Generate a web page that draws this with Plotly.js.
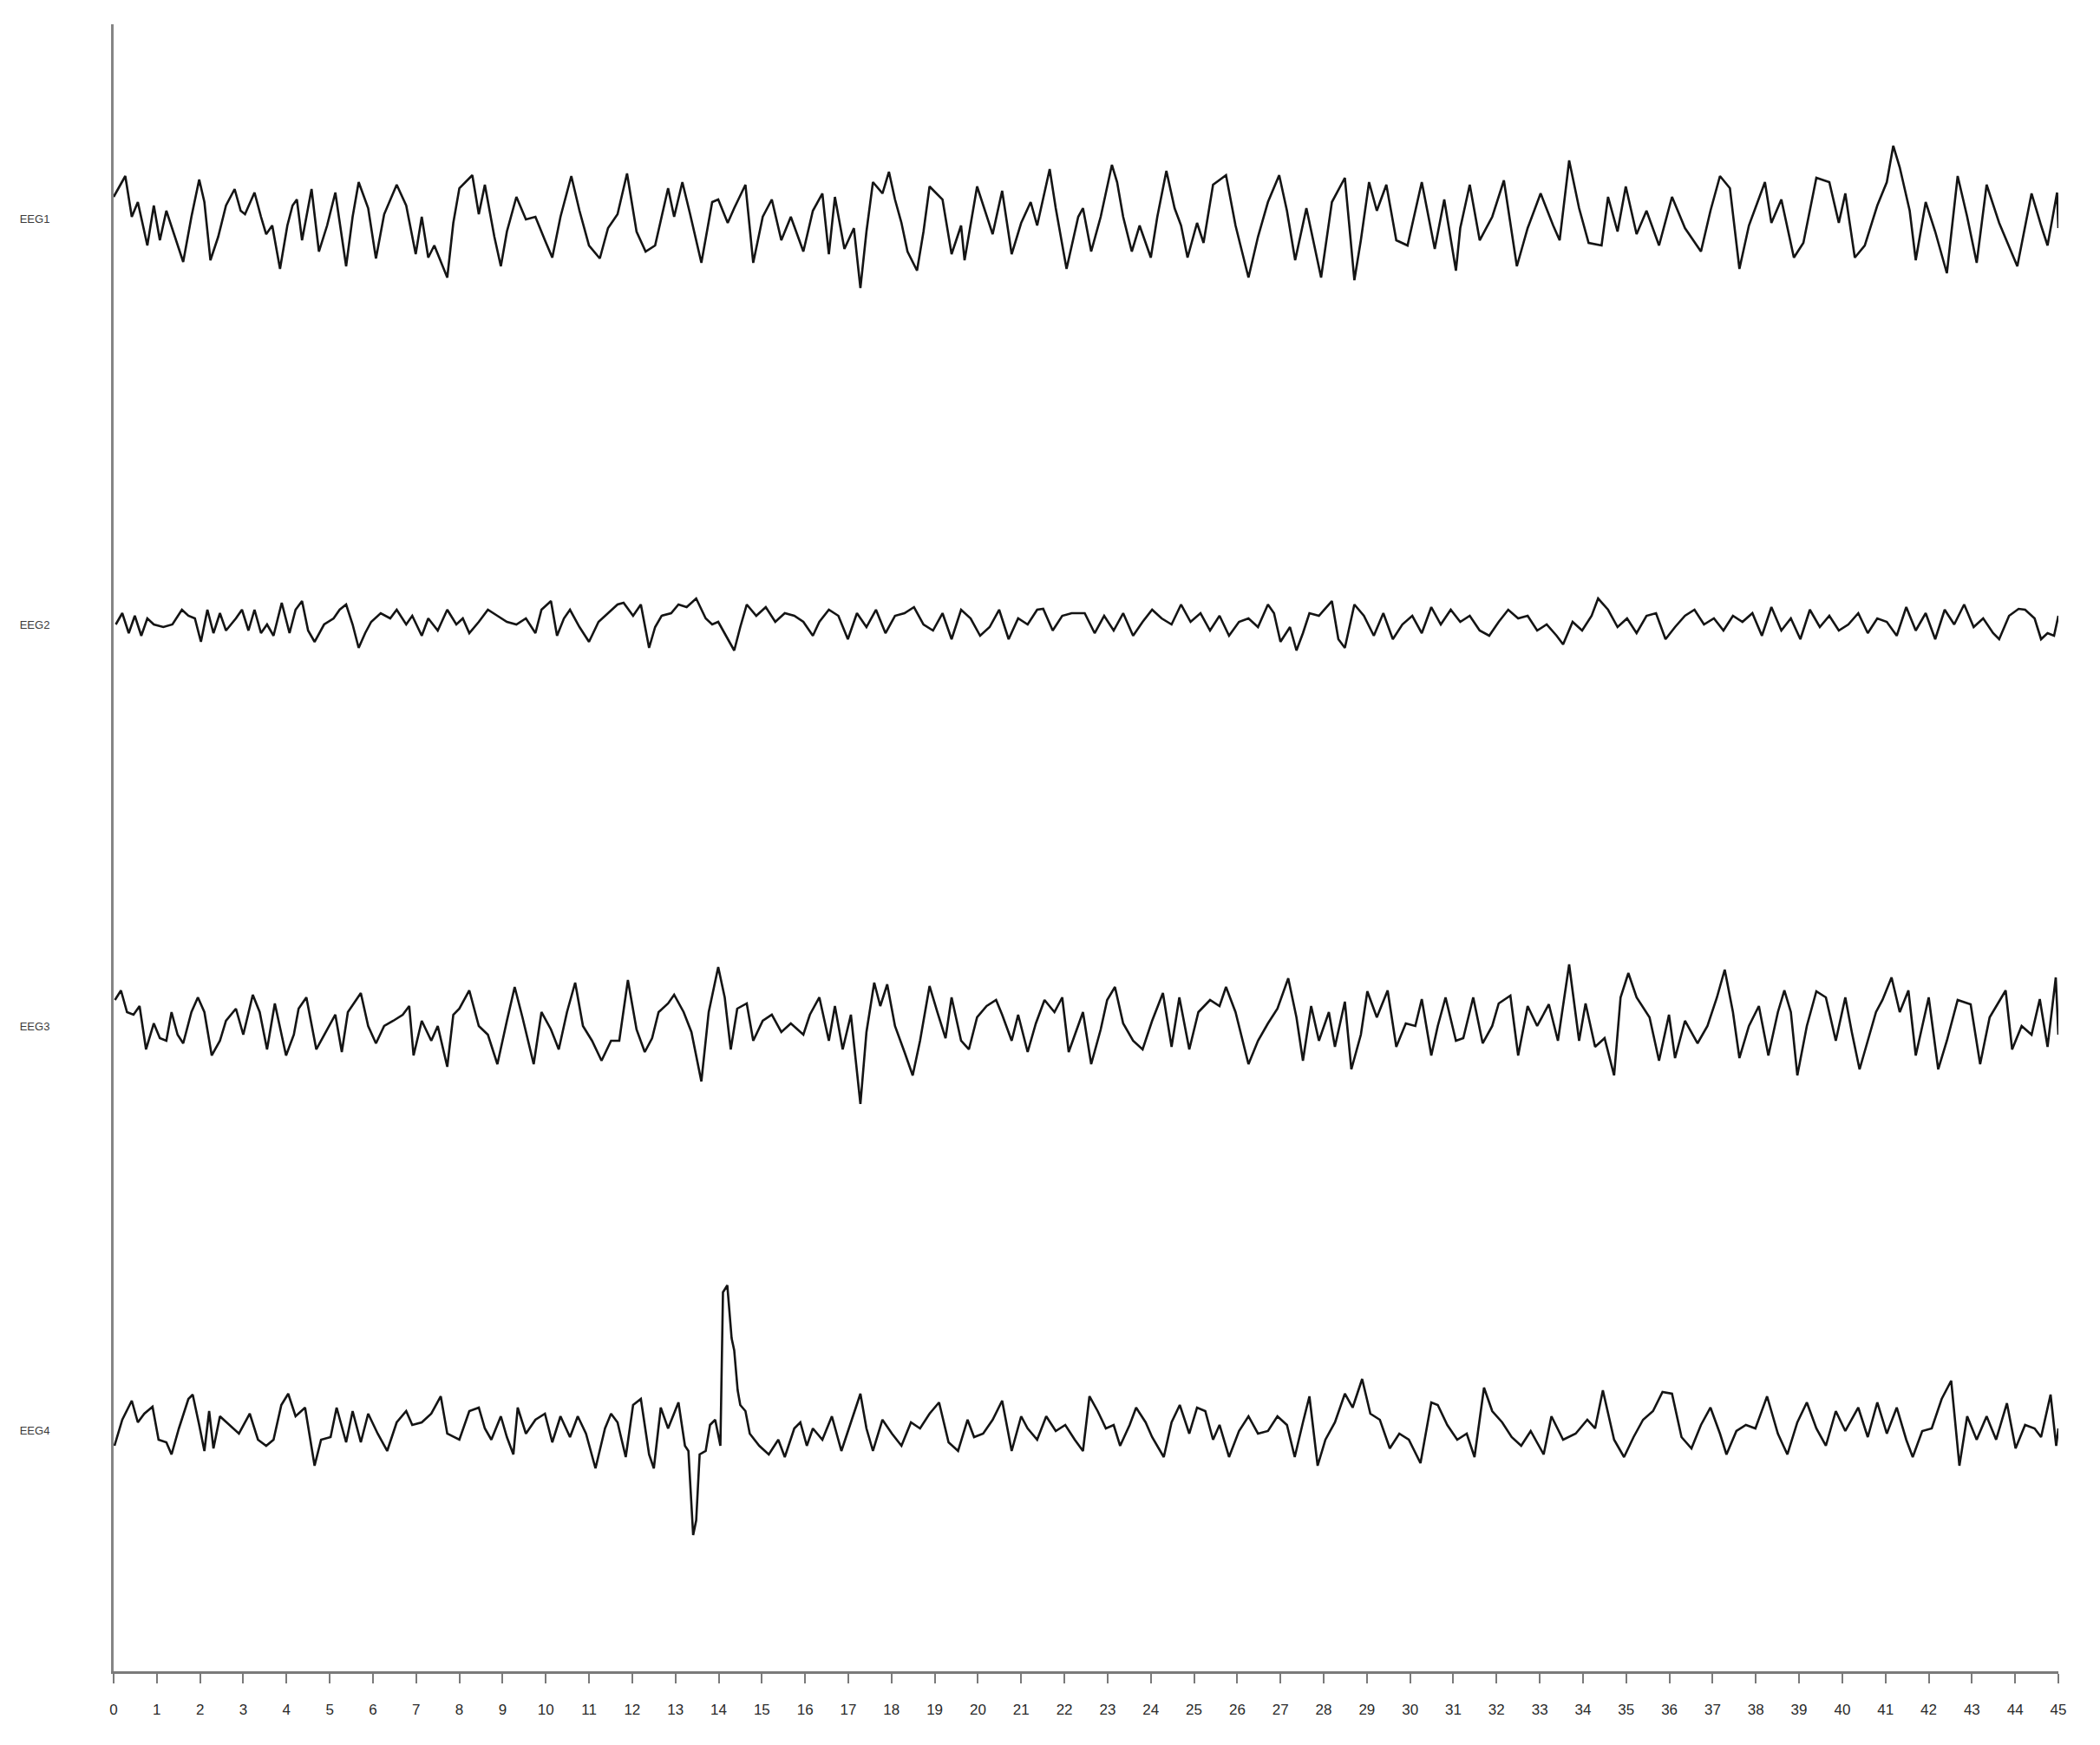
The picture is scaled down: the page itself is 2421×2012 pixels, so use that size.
<!DOCTYPE html>
<html>
<head>
<meta charset="utf-8">
<script src="https://cdn.plot.ly/plotly-3.0.1.min.js"></script>
<style>html,body{margin:0;padding:0;background:#fff;}#chart{width:2421px;height:2012px;}</style>
</head>
<body>
<div id="chart"></div>
<script>
// ---- data (time in s, amplitude in arbitrary units) ----
const channelNames = ["EEG1", "EEG2", "EEG3", "EEG4"];
const xTicks = [0,1,2,3,4,5,6,7,8,9,10,11,12,13,14,15,16,17,18,19,20,21,22,23,24,25,26,27,28,29,30,31,32,33,34,35,36,37,38,39,40,41,42,43,44,45];

const eeg1_t = [0,0.27,0.42,0.56,0.71,0.78,0.93,1.07,1.22,1.44,1.61,1.8,1.98,2.1,2.24,2.42,2.6,2.8,2.94,3.04,3.26,3.41,3.53,3.67,3.85,4.02,4.14,4.24,4.36,4.58,4.75,4.94,5.13,5.38,5.53,5.67,5.89,6.07,6.26,6.55,6.77,6.99,7.13,7.28,7.42,7.72,7.86,8.0,8.3,8.45,8.59,8.81,8.96,9.1,9.32,9.54,9.76,9.98,10.15,10.34,10.59,10.78,11.0,11.25,11.44,11.66,11.88,12.1,12.31,12.53,12.83,12.97,13.16,13.34,13.6,13.85,13.99,14.21,14.36,14.62,14.8,15.02,15.23,15.45,15.67,15.96,16.18,16.4,16.55,16.69,16.91,17.13,17.28,17.42,17.57,17.79,17.94,18.08,18.23,18.37,18.59,18.74,18.88,19.18,19.39,19.61,19.69,19.98,20.2,20.34,20.56,20.78,21.0,21.22,21.37,21.66,21.8,22.05,22.32,22.43,22.62,22.84,23.1,23.22,23.36,23.56,23.74,24.0,24.15,24.36,24.55,24.7,24.85,25.07,25.22,25.44,25.74,25.96,26.26,26.48,26.71,26.97,27.15,27.34,27.6,27.94,28.19,28.49,28.71,28.86,29.05,29.23,29.45,29.68,29.94,30.27,30.57,30.79,31.06,31.16,31.38,31.61,31.9,32.17,32.47,32.72,33.02,33.31,33.46,33.68,33.91,34.13,34.43,34.58,34.8,34.99,35.24,35.47,35.76,36.06,36.36,36.73,36.95,37.17,37.4,37.62,37.84,38.21,38.36,38.59,38.88,39.1,39.4,39.7,39.92,40.07,40.29,40.52,40.81,41.03,41.18,41.33,41.56,41.7,41.93,42.15,42.42,42.67,42.89,43.11,43.34,43.63,44.05,44.38,44.6,44.75,44.97,45.0];
const eeg1_v = [25,49,2,19,-15,-31,15,-25,9,-25,-50,2,45,19,-48,-21,15,34,9,5,30,2,-18,-8,-58,-8,15,22,-25,34,-38,-8,30,-55,2,42,12,-46,5,39,15,-41,2,-45,-31,-68,-5,35,50,5,39,-21,-55,-15,25,-1,2,-25,-45,2,49,9,-31,-46,-11,5,52,-15,-38,-31,35,2,42,5,-51,19,22,-5,12,39,-51,2,22,-25,2,-38,9,29,-41,25,-35,-11,-80,-15,42,29,54,22,-5,-38,-60,-15,37,22,-41,-8,-48,37,2,-18,32,-41,-5,19,-8,57,12,-58,2,12,-38,2,62,42,2,-38,-8,-45,2,55,12,-8,-45,-5,-28,39,50,-8,-68,-21,19,50,9,-48,12,-68,19,47,-71,-25,42,9,39,-25,-31,42,-35,22,-60,-11,39,-25,2,44,-55,-11,29,-8,-25,67,12,-28,-31,25,-15,37,-18,9,-31,25,-11,-38,9,49,35,-58,-8,42,-5,22,-45,-28,47,42,-5,29,-45,-31,15,42,84,59,9,-48,19,-15,-63,49,2,-51,39,-5,-55,29,-8,-31,30,-11];

const eeg2_t = [0.05,0.2,0.35,0.49,0.64,0.78,0.93,1.15,1.36,1.58,1.73,1.88,2.02,2.17,2.31,2.46,2.6,2.83,2.97,3.12,3.26,3.41,3.55,3.7,3.89,4.07,4.21,4.36,4.5,4.65,4.87,5.09,5.23,5.38,5.53,5.67,5.82,5.96,6.18,6.4,6.55,6.77,6.91,7.13,7.28,7.5,7.72,7.93,8.08,8.23,8.45,8.66,8.88,9.1,9.32,9.54,9.76,9.9,10.12,10.26,10.42,10.56,10.78,11.0,11.22,11.44,11.66,11.8,12.02,12.2,12.39,12.53,12.68,12.9,13.07,13.26,13.48,13.7,13.85,13.99,14.21,14.36,14.5,14.65,14.87,15.09,15.31,15.53,15.75,15.96,16.18,16.33,16.55,16.77,16.99,17.2,17.42,17.64,17.86,18.08,18.3,18.52,18.74,18.96,19.18,19.39,19.61,19.83,20.05,20.27,20.49,20.71,20.93,21.15,21.37,21.51,21.73,21.95,22.17,22.47,22.7,22.92,23.14,23.36,23.59,23.81,24.03,24.25,24.48,24.7,24.92,25.15,25.37,25.59,25.81,26.04,26.26,26.48,26.71,26.85,27.0,27.22,27.37,27.52,27.67,27.89,28.19,28.34,28.49,28.71,28.93,29.16,29.38,29.6,29.82,30.05,30.27,30.49,30.71,30.94,31.16,31.38,31.61,31.83,32.05,32.27,32.5,32.72,32.94,33.16,33.39,33.54,33.76,33.98,34.2,34.35,34.58,34.8,35.02,35.24,35.47,35.69,35.91,36.13,36.36,36.58,36.8,37.03,37.25,37.47,37.69,37.92,38.14,38.36,38.59,38.81,39.03,39.25,39.48,39.7,39.92,40.14,40.37,40.59,40.81,41.03,41.26,41.48,41.7,41.93,42.15,42.37,42.59,42.82,43.04,43.26,43.49,43.63,43.86,44.08,44.23,44.45,44.6,44.75,44.9,45.0];
const eeg2_v = [0,13,-10,10,-13,7,0,-3,0,17,10,7,-20,17,-10,13,-7,7,17,-7,17,-10,0,-13,25,-10,17,27,-7,-20,0,7,17,23,0,-27,-10,3,13,7,17,0,10,-13,7,-7,17,0,7,-10,3,17,10,3,0,7,-10,17,27,-13,7,17,-3,-20,3,13,23,25,10,23,-27,-3,10,13,23,20,30,7,0,3,-17,-30,-3,23,10,20,3,13,10,3,-13,3,17,10,-17,13,-3,17,-10,10,13,20,0,-7,13,-17,17,7,-13,-3,17,-17,7,0,17,18,-7,10,13,13,-10,10,-7,13,-13,3,17,7,0,23,3,13,-7,10,-13,3,7,-3,23,13,-20,-3,-30,-10,13,10,27,-17,-27,23,10,-13,13,-17,0,10,-10,20,0,17,3,10,-7,-13,3,17,7,10,-7,0,-13,-23,3,-7,10,30,17,-3,7,-10,10,13,-17,-3,10,17,0,7,-7,10,3,13,-13,20,-7,7,-17,17,-3,10,-7,0,13,-10,7,3,-13,20,-7,13,-17,17,0,23,-3,7,-10,-17,10,18,17,7,-17,-10,-13,10];

const eeg3_t = [0.03,0.17,0.31,0.46,0.6,0.75,0.93,1.07,1.22,1.34,1.48,1.61,1.8,1.95,2.1,2.27,2.46,2.6,2.83,3.0,3.22,3.38,3.55,3.73,3.99,4.17,4.28,4.46,4.69,4.94,5.13,5.28,5.42,5.72,5.89,6.07,6.26,6.47,6.69,6.84,6.94,7.13,7.35,7.5,7.72,7.86,8.0,8.23,8.45,8.66,8.88,9.1,9.28,9.46,9.72,9.9,10.12,10.3,10.49,10.68,10.86,11.07,11.29,11.51,11.7,11.9,12.1,12.29,12.46,12.61,12.83,12.97,13.19,13.37,13.6,13.77,13.99,14.14,14.28,14.43,14.65,14.8,15.02,15.23,15.45,15.67,15.96,16.11,16.33,16.55,16.69,16.87,17.06,17.28,17.42,17.6,17.74,17.9,18.08,18.3,18.49,18.66,18.88,19.06,19.25,19.39,19.61,19.79,19.98,20.2,20.42,20.56,20.78,20.93,21.15,21.34,21.54,21.77,21.95,22.1,22.32,22.43,22.62,22.84,22.99,23.17,23.36,23.59,23.81,24.03,24.28,24.48,24.66,24.89,25.1,25.37,25.59,25.74,25.96,26.26,26.48,26.71,26.93,27.18,27.37,27.52,27.71,27.89,28.12,28.26,28.49,28.64,28.86,29.01,29.23,29.48,29.68,29.9,30.12,30.27,30.49,30.64,30.82,31.06,31.23,31.46,31.68,31.9,32.05,32.32,32.5,32.72,32.94,33.21,33.42,33.68,33.91,34.06,34.28,34.5,34.72,34.87,35.05,35.24,35.54,35.76,35.99,36.13,36.36,36.65,36.88,37.1,37.28,37.47,37.62,37.84,38.07,38.29,38.51,38.66,38.81,38.96,39.18,39.4,39.62,39.85,40.07,40.22,40.4,40.59,40.78,40.93,41.14,41.33,41.53,41.7,42.0,42.22,42.42,42.67,42.97,43.19,43.41,43.78,43.93,44.15,44.38,44.57,44.75,44.94,45.0];
const eeg3_v = [30,41,16,13,23,-27,3,-14,-17,16,-10,-20,16,33,16,-34,-17,6,20,-10,36,16,-27,26,-34,-10,20,33,-27,-4,13,-30,16,38,0,-20,0,6,13,23,-34,6,-17,0,-47,13,20,41,0,-10,-44,6,45,10,-44,16,-4,-27,16,50,0,-17,-40,-17,-17,53,-4,-30,-14,16,26,36,16,-7,-64,16,68,33,-27,20,26,-17,6,13,-7,3,-10,13,33,-17,23,-27,13,-90,-7,50,23,48,0,-30,-57,-17,46,16,-14,33,-17,-27,10,23,30,13,-17,13,-30,3,30,16,33,-30,0,16,-44,-4,30,45,3,-17,-27,6,38,-24,33,-27,16,30,23,45,16,-44,-17,3,20,55,10,-40,23,-17,16,-24,28,-50,-10,40,10,41,-24,3,0,31,-34,0,33,-17,-14,33,-20,0,26,35,-34,23,0,25,-17,71,-17,26,-24,-14,-57,33,61,33,10,-40,13,-37,6,-20,0,33,65,16,-37,0,23,-34,16,41,16,-57,0,40,33,-17,33,-7,-50,-17,16,30,56,16,41,-34,33,-50,-17,30,25,-44,10,41,-27,0,-10,31,-24,56,-10];

const eeg4_t = [0.02,0.2,0.42,0.56,0.71,0.9,1.04,1.22,1.34,1.51,1.73,1.83,1.98,2.1,2.21,2.31,2.46,2.68,2.9,3.15,3.34,3.53,3.7,3.88,4.04,4.21,4.43,4.65,4.8,5.02,5.16,5.38,5.53,5.72,5.89,6.11,6.33,6.55,6.77,6.91,7.13,7.35,7.57,7.72,8.0,8.23,8.45,8.59,8.74,8.96,9.1,9.25,9.35,9.54,9.76,9.98,10.15,10.34,10.56,10.74,10.93,11.15,11.37,11.51,11.66,11.85,12.02,12.2,12.39,12.5,12.66,12.83,13.07,13.22,13.3,13.41,13.48,13.56,13.7,13.8,13.92,14.04,14.1,14.2,14.3,14.36,14.44,14.5,14.62,14.72,14.94,15.16,15.38,15.53,15.75,15.89,16.04,16.18,16.4,16.62,16.84,17.06,17.28,17.42,17.57,17.79,18.01,18.23,18.45,18.66,18.88,19.1,19.32,19.54,19.76,19.91,20.12,20.34,20.56,20.78,21.0,21.15,21.37,21.58,21.8,22.02,22.24,22.43,22.58,22.77,22.96,23.14,23.29,23.51,23.66,23.88,24.03,24.3,24.48,24.67,24.89,25.07,25.26,25.44,25.59,25.81,26.04,26.26,26.48,26.71,26.93,27.15,27.33,27.52,27.67,27.86,28.04,28.26,28.49,28.67,28.89,29.08,29.3,29.53,29.75,29.97,30.24,30.49,30.64,30.86,31.09,31.31,31.49,31.71,31.9,32.13,32.35,32.57,32.79,33.09,33.27,33.54,33.83,34.1,34.28,34.46,34.72,34.95,35.17,35.39,35.62,35.84,36.06,36.28,36.51,36.73,36.95,37.17,37.32,37.55,37.77,37.99,38.26,38.51,38.73,38.96,39.18,39.4,39.62,39.85,40.07,40.37,40.59,40.81,41.03,41.26,41.48,41.63,41.85,42.07,42.3,42.52,42.71,42.89,43.11,43.34,43.56,43.81,44.01,44.23,44.45,44.6,44.82,44.95,45.0];
const eeg4_v = [-18,12,34,9,19,27,-11,-14,-28,2,36,41,6,-24,22,-21,16,6,-4,19,-11,-18,-11,29,42,16,26,-41,-11,-8,26,-14,22,-14,19,-4,-24,9,22,6,9,19,39,-4,-11,22,26,2,-11,16,-8,-28,26,-4,12,19,-14,16,-8,16,-4,-44,2,19,9,-31,29,36,-28,-44,26,2,32,-18,-24,-121,-104,-28,-24,6,12,-18,159,167,106,92,46,29,22,-4,-18,-28,-11,-31,2,9,-18,2,-11,16,-24,9,42,2,-24,12,-4,-18,9,2,19,32,-14,-24,12,-8,-4,12,34,-24,16,2,-11,16,-1,6,-11,-24,39,22,2,6,-18,6,26,9,-8,-31,9,29,-4,26,22,-11,6,-31,-1,16,-4,-1,16,6,-31,9,39,-41,-11,9,42,26,59,19,12,-21,-4,-11,-38,32,29,6,-11,-4,-31,49,22,9,-8,-18,-1,-28,16,-11,-4,12,2,46,-11,-31,-8,12,22,44,42,-8,-21,6,26,-4,-28,-1,6,2,39,-4,-28,9,32,2,-18,22,-1,26,-8,32,-4,26,-11,-31,-1,2,36,57,-41,16,-11,16,-11,31,-21,6,2,-8,41,-18,2];

const channelT = [eeg1_t, eeg2_t, eeg3_t, eeg4_t];
const channelV = [eeg1_v, eeg2_v, eeg3_v, eeg4_v];

// ---- figure ----
const axisNames = ["y", "y2", "y3", "y4"];
const traces = channelNames.map((name, i) => ({
  type: "scatter",
  mode: "lines",
  name: name,
  x: channelT[i],
  y: channelV[i],
  xaxis: "x",
  yaxis: axisNames[i],
  line: {color: "#141414", width: 2.6},
  hoverinfo: "skip"
}));

const domains = [[0.7588, 1], [0.5137, 0.7588], [0.2691, 0.5137], [0, 0.2691]];
const ranges = [[-234, 224], [-231.5, 234], [-233, 231.5], [-278, 233]];
const labelFont = {family: "Liberation Sans Narrow, Arial Narrow, Liberation Sans, Arial, sans-serif", size: 13, color: "#3a3a3a"};

function yAxis(i) {
  return {
    domain: domains[i],
    range: ranges[i],
    anchor: "x",
    showline: true,
    linecolor: "#858585",
    linewidth: 3,
    showgrid: false,
    zeroline: false,
    ticks: "",
    tickmode: "array",
    tickvals: [0],
    ticktext: [channelNames[i]],
    tickfont: labelFont,
    ticklabelstandoff: 68,
    fixedrange: true
  };
}

const layout = {
  width: 2421,
  height: 2012,
  margin: {l: 131, r: 48, t: 28, b: 85},
  paper_bgcolor: "#ffffff",
  plot_bgcolor: "#ffffff",
  showlegend: false,
  xaxis: {
    range: [0, 45],
    anchor: "y4",
    showline: true,
    linecolor: "#7a7a7a",
    linewidth: 3,
    showgrid: false,
    zeroline: false,
    ticks: "outside",
    ticklen: 11,
    tickwidth: 2,
    tickcolor: "#7a7a7a",
    tickmode: "array",
    tickvals: xTicks,
    ticktext: xTicks.map(String),
    tickfont: {family: "Liberation Sans Narrow, Arial Narrow, Liberation Sans, Arial, sans-serif", size: 17, color: "#2a2a2a"},
    ticklabelstandoff: 16,
    fixedrange: true
  },
  yaxis: yAxis(0),
  yaxis2: yAxis(1),
  yaxis3: yAxis(2),
  yaxis4: yAxis(3)
};

Plotly.newPlot("chart", traces, layout, {staticPlot: true, displayModeBar: false});
</script>
</body>
</html>
